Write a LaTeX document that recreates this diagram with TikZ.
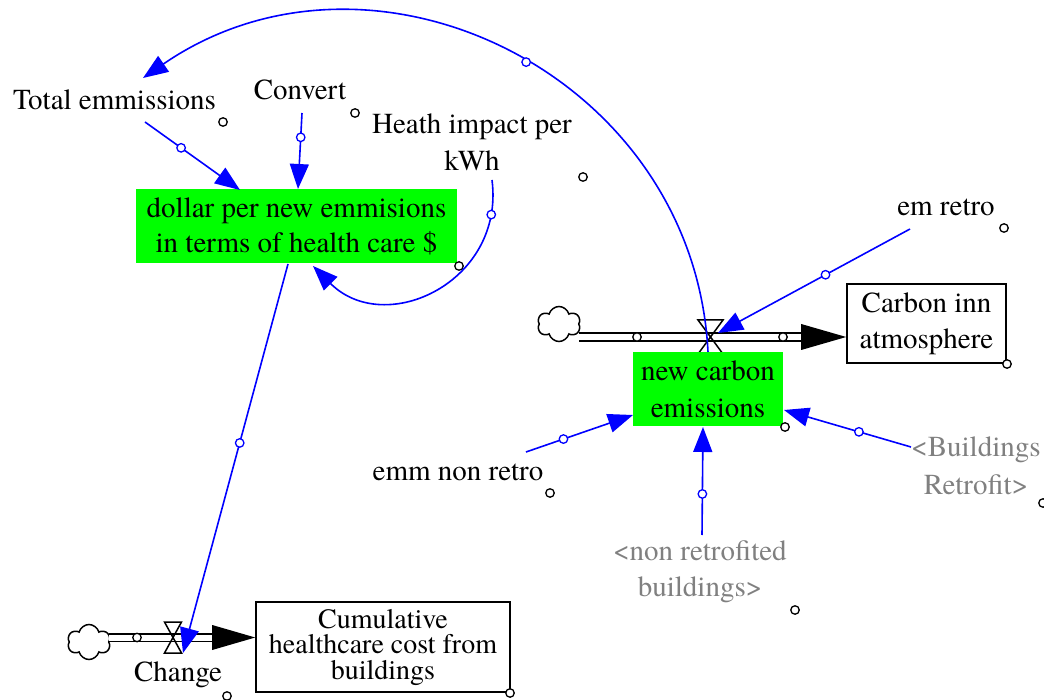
\documentclass[tikz,border=0pt]{standalone}
\usepackage{fontspec}
\IfFontExistsTF{texgyretermes-regular.otf}
  {\newfontfamily\vfont{texgyretermes-regular.otf}}
  {\newfontfamily\vfont{lmroman10-regular.otf}[Scale=0.93]}
\usetikzlibrary{arrows.meta,shapes.symbols}
\definecolor{vgreen}{RGB}{0,255,0}
\definecolor{vblue}{RGB}{0,0,255}
\definecolor{vgray}{RGB}{128,128,128}
\begin{document}
\begin{tikzpicture}[x=1pt,y=-1pt,
  lbl/.style={inner sep=0pt, align=center, font=\vfont\fontsize{29}{35}\selectfont},
  ghost/.style={lbl, text=vgray},
  auxbox/.style={fill=vgreen, inner sep=0pt, align=center},
  stockbox/.style={draw=black, line width=1.6pt, fill=white, inner sep=0pt, align=center},
  link/.style={vblue, line width=1.6pt, -{Triangle[length=25pt,width=19pt]}},
  linkdot/.style={circle, draw=vblue, fill=white, line width=1.3pt, inner sep=0pt, minimum size=8.5pt},
  handle/.style={circle, draw=black, fill=white, line width=1.3pt, inner sep=0pt, minimum size=8.5pt},
  pipe/.style={draw=black, double=white, double distance=6pt, line width=1.7pt},
  cloudshape/.style={cloud, cloud puffs=6, draw=black, line width=1.5pt, fill=white, minimum width=43pt, minimum height=35pt, inner sep=0pt, aspect=1.25},
  valve/.style={draw=black, line width=1.5pt}
]
\useasboundingbox[fill=white] (0,0) rectangle (1044,700);

% ---- stocks ----
\node[stockbox, minimum width=159pt, minimum height=79pt, font=\vfont\fontsize{29}{36}\selectfont] (carbon) at (926.5,323.5) {Carbon inn\\atmosphere};
\node[stockbox, minimum width=254pt, minimum height=90pt, font=\vfont\fontsize{28}{25.5}\selectfont] (cum) at (383,647) {Cumulative\\healthcare cost from\\buildings};

% ---- top flow ----
\node[cloudshape] (c1) at (559,324) {};
\coordinate (p1s) at (579,337);
\coordinate (p1e) at (803,337);
\coordinate (t1) at (carbon.west |- p1s);
\draw[pipe] (p1s) -- (p1e);
\fill[black] (t1) -- ++(-45,-13) -- ++(0,26) -- cycle;
\coordinate (v1) at (710.5,337);
\draw[valve] (v1) ++(-12.5,-17) -- ++(25,0) -- ++(-25,34) -- ++(25,0) -- cycle;
\node[handle] (h1a) at (637,337) {};
\node[handle] (h1b) at (783,337) {};

% ---- bottom flow ----
\node[cloudshape] (c2) at (89,642) {};
\coordinate (p2s) at (109,637.5);
\coordinate (p2e) at (213,637.5);
\coordinate (t2) at (cum.west |- p2s);
\draw[pipe] (p2s) -- (p2e);
\fill[black] (t2) -- ++(-43,-12.5) -- ++(0,25) -- cycle;
\coordinate (v2) at (173,637.5);
\draw[valve] (v2) ++(-8.5,-15.5) -- ++(17,0) -- ++(-17,31) -- ++(17,0) -- cycle;
\node[handle] (h2a) at (137,637.5) {};

% ---- auxiliaries ----
\node[auxbox, minimum width=321pt, minimum height=74pt, font=\vfont\fontsize{29}{35}\selectfont] (dollar) at (296.5,226) {dollar per new emmisions\\in terms of health care \$};
\node[auxbox, minimum width=150pt, minimum height=74pt, font=\vfont\fontsize{29}{37}\selectfont] (ncarb) at (708,389) {new carbon\\emissions};

\node[lbl] (total) at (114.5,100) {Total emmissions};
\node[lbl] (convert) at (300,90) {Convert};
\node[lbl, font=\vfont\fontsize{29}{37}\selectfont] (heath) at (472,142) {Heath impact per\\kWh};
\node[lbl] (emretro) at (946,207) {em retro};
\node[lbl] (emmnon) at (458,472) {emm non retro};
\node[ghost, font=\vfont\fontsize{29}{38}\selectfont] (bret) at (976,466) {<Buildings\\Retrofit>};
\node[ghost, font=\vfont\fontsize{29}{36}\selectfont] (nonret) at (700,572) {<non retrofited\\buildings>};
\node[lbl] (change) at (178,675) {Change};

% ---- handles ----
\node[handle] at (223,122) {};
\node[handle] at (355,113) {};
\node[handle] at (583,177) {};
\node[handle] at (459,266) {};
\node[handle] at (1004,228) {};
\node[handle] at (1007,364) {};
\node[handle] at (785,427) {};
\node[handle] at (550,493) {};
\node[handle] at (795,610) {};
\node[handle] at (1043,503) {};
\node[handle] at (227,696) {};
\node[handle] at (510,693) {};

% ---- link end points ----
\coordinate (totOut) at (145,122);
\coordinate (totIn) at (240,190);
\coordinate (convOut) at (302,113);
\coordinate (convIn) at (298,189);
\coordinate (heathOut) at (492,180);
\coordinate (heathIn) at (313,266);
\coordinate (arcOut) at (708,352);
\coordinate (arcIn) at (143,78);
\coordinate (retOut) at (910,229);
\coordinate (retIn) at (718,333);
\coordinate (nonOut) at (526,452);
\coordinate (nonIn) at (633,415);
\coordinate (nrbOut) at (702,535);
\coordinate (nrbIn) at (703,427);
\coordinate (brOut) at (911,447);
\coordinate (brIn) at (784,410);
\coordinate (dolOut) at (288,264);
\coordinate (chgIn) at (183,653);

% ---- links ----
\draw[link] (totOut) -- node[linkdot,pos=0.38]{} (totIn);
\draw[link] (convOut) -- node[linkdot,pos=0.32]{} (convIn);
\draw[link] (heathOut) .. controls (505,282) and (385,338) .. node[linkdot,pos=0.12]{} (heathIn);
\draw[link] (arcOut) .. controls (694,75) and (373,-80) .. node[linkdot,pos=0.47]{} (arcIn);
\draw[link] (retOut) -- node[linkdot,pos=0.44]{} (retIn);
\draw[link] (nonOut) -- node[linkdot,pos=0.35]{} (nonIn);
\draw[link] (nrbOut) -- node[linkdot,pos=0.38]{} (nrbIn);
\draw[link] (brOut) -- node[linkdot,pos=0.41]{} (brIn);
\draw[link] (dolOut) -- node[linkdot,pos=0.46]{} (chgIn);
\end{tikzpicture}
\end{document}
